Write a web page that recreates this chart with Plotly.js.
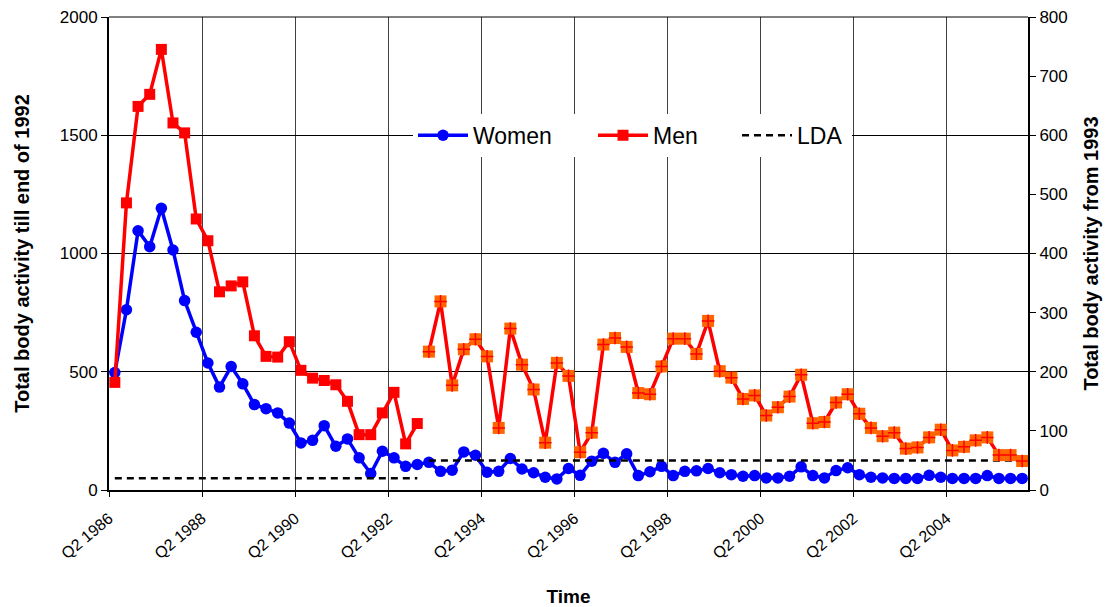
<!DOCTYPE html>
<html><head><meta charset="utf-8">
<script src="https://cdn.plot.ly/plotly-3.0.1.min.js"></script>
<style>html,body{margin:0;padding:0;background:#fff}#chart{width:1111px;height:607px}</style>
</head><body><div id="chart"></div><script>
const quarters = [
"Q2 1986","Q3 1986","Q4 1986",
"Q1 1987","Q2 1987","Q3 1987","Q4 1987",
"Q1 1988","Q2 1988","Q3 1988","Q4 1988",
"Q1 1989","Q2 1989","Q3 1989","Q4 1989",
"Q1 1990","Q2 1990","Q3 1990","Q4 1990",
"Q1 1991","Q2 1991","Q3 1991","Q4 1991",
"Q1 1992","Q2 1992","Q3 1992","Q4 1992",
"Q1 1993","Q2 1993","Q3 1993","Q4 1993",
"Q1 1994","Q2 1994","Q3 1994","Q4 1994",
"Q1 1995","Q2 1995","Q3 1995","Q4 1995",
"Q1 1996","Q2 1996","Q3 1996","Q4 1996",
"Q1 1997","Q2 1997","Q3 1997","Q4 1997",
"Q1 1998","Q2 1998","Q3 1998","Q4 1998",
"Q1 1999","Q2 1999","Q3 1999","Q4 1999",
"Q1 2000","Q2 2000","Q3 2000","Q4 2000",
"Q1 2001","Q2 2001","Q3 2001","Q4 2001",
"Q1 2002","Q2 2002","Q3 2002","Q4 2002",
"Q1 2003","Q2 2003","Q3 2003","Q4 2003",
"Q1 2004","Q2 2004","Q3 2004","Q4 2004",
"Q1 2005","Q2 2005","Q3 2005","Q4 2005"
];
const tickLabels = ["Q2 1986","Q2 1988","Q2 1990","Q2 1992","Q2 1994","Q2 1996","Q2 1998","Q2 2000","Q2 2002","Q2 2004"];

// Women (left axis), whole period
const womenValues = [
497,762,1096,1029,1191,1015,801,667,537,435,522,449,361,344,326,283,199,210,272,185,216,136,70,164,136,100,108,
117,79,84,161,147,75,79,133,89,73,54,47,91,62,122,155,117,153,61,77,100,61,79,81,91,73,
65,58,61,51,51,58,98,61,51,82,94,65,54,51,49,49,49,62,54,49,49,49,61,49,49,49
];
// Men till end of 1992 (left axis)
const menBefore1993 = [455,1214,1622,1673,1863,1552,1510,1146,1054,838,863,880,652,565,562,627,506,473,463,445,375,234,234,326,413,195,281];
// Men from 1993 (right axis)
const menFrom1993 = [234,319,177,238,255,226,105,273,212,170,80,215,193,64,97,246,257,242,164,162,209,256,256,230,286,201,
190,154,160,126,140,158,195,113,115,148,162,129,105,91,97,70,72,89,102,67,73,84,89,59,59,49];
const ldaLevel = 50;

const pos = q => quarters.indexOf(q);
const qBefore = quarters.slice(0, menBefore1993.length);
const qFrom = quarters.slice(menBefore1993.length);

const FONT = "Liberation Sans, Arial, sans-serif";

const traces = [
  {name:"Women", legendwidth:115, x: quarters.map(pos), y: womenValues, yaxis:"y", mode:"lines+markers",
   line:{color:"#0000FF", width:3.5}, marker:{symbol:"circle", size:11.5, color:"#0000FF"}},
  {name:"Men", legendwidth:79, x: qBefore.map(pos), y: menBefore1993, yaxis:"y", mode:"lines+markers",
   line:{color:"#FF0000", width:3.5}, marker:{symbol:"square", size:11, color:"#FF0000"}},
  {name:"LDA", legendwidth:50, x: qBefore.map(pos), y: qBefore.map(() => ldaLevel), yaxis:"y", mode:"lines",
   line:{color:"#000000", width:2.5, dash:"7px,5px"}},
  {name:"LDA from 1993", showlegend:false, x: qFrom.map(pos), y: qFrom.map(() => ldaLevel), yaxis:"y2", mode:"lines",
   line:{color:"#000000", width:2.5, dash:"7px,5px"}},
  {name:"Men from 1993", showlegend:false, x: qFrom.map(pos), y: menFrom1993, yaxis:"y2", mode:"lines+markers",
   line:{color:"#FF0000", width:3.5}, marker:{symbol:"square", size:12, color:"#FF6600"}},
  {name:"Men from 1993 cross", showlegend:false, hoverinfo:"skip", x: qFrom.map(pos), y: menFrom1993, yaxis:"y2", mode:"markers",
   marker:{symbol:"cross-thin-open", size:9, color:"#FF0000", line:{color:"#FF0000", width:1.5}}}
];

const layout = {
  width:1111, height:607,
  margin:{l:109, r:83, t:17, b:117},
  paper_bgcolor:"#ffffff", plot_bgcolor:"#ffffff",
  font:{family:FONT, color:"#000000", size:17},
  showlegend:true,
  legend:{orientation:"h", x:0.3308, xanchor:"left", y:0.75, yanchor:"middle",
    bgcolor:"#ffffff", borderwidth:0, font:{family:FONT, size:23, color:"#000"}, itemwidth:50, traceorder:"normal"},
  xaxis:{
    type:"linear", range:[-0.5, quarters.length - 0.5],
    tickmode:"array", tickvals: tickLabels.map(t => pos(t) - 0.5), ticktext: tickLabels,
    tickangle:-40, tickfont:{family:FONT, size:16}, ticklabelstandoff:6,
    showgrid:true, gridcolor:"#404040", gridwidth:1, zeroline:false,
    showline:true, linecolor:"#000", linewidth:2, ticks:"outside", ticklen:5, tickcolor:"#000",
    title:{text:"<b>Time</b>", font:{family:FONT, size:19}, standoff:45}
  },
  yaxis:{
    range:[0,2000], dtick:500, tickfont:{family:FONT, size:17},
    showgrid:true, gridcolor:"#000", gridwidth:1, zeroline:false,
    showline:true, linecolor:"#000", linewidth:2, ticks:"outside", ticklen:6, tickcolor:"#000",
    title:{text:"<b>Total body activity till end of 1992</b>", font:{family:FONT, size:20}, standoff:25}
  },
  yaxis2:{
    overlaying:"y", side:"right", range:[0,800], dtick:100, tickfont:{family:FONT, size:17},
    showgrid:false, zeroline:false,
    showline:true, linecolor:"#000", linewidth:2, ticks:"outside", ticklen:6, tickcolor:"#000",
    title:{text:"<b>Total body activity from 1993</b>", font:{family:FONT, size:20}, standoff:17}
  },
  shapes:[{type:"line", xref:"paper", yref:"paper", x0:0, x1:1, y0:1, y1:1, line:{color:"#000", width:1}}]
};

Plotly.newPlot("chart", traces, layout, {displayModeBar:false, staticPlot:true});
</script></body></html>
